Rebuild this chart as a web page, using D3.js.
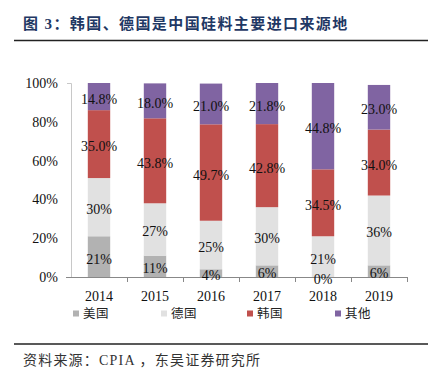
<!DOCTYPE html>
<html>
<head>
<meta charset="utf-8">
<script src="https://cdn.jsdelivr.net/npm/d3@7"></script>
<style>
  body { margin: 0; background: #fff; }
  svg text { font-family: "Liberation Serif", "Times New Roman", serif; }
  .cjk { font-family: "Liberation Serif", "Noto Sans CJK SC", serif; }
</style>
</head>
<body>
<div id="chart"></div>
<script>
const svgWidth = 431;
const svgHeight = 374;

// data
const years = ["2014", "2015", "2016", "2017", "2018", "2019"];
const seriesNames = ["美国", "德国", "韩国", "其他"];
const usa = [21, 11, 4, 6, 0, 6];
const germany = [30, 27, 25, 30, 21, 36];
const korea = [35.0, 43.8, 49.7, 42.8, 34.5, 34.0];
const others = [14.8, 18.0, 21.0, 21.8, 44.8, 23.0];
const labelText = [
  ["21%", "11%", "4%", "6%", "0%", "6%"],
  ["30%", "27%", "25%", "30%", "21%", "36%"],
  ["35.0%", "43.8%", "49.7%", "42.8%", "34.5%", "34.0%"],
  ["14.8%", "18.0%", "21.0%", "21.8%", "44.8%", "23.0%"]
];
const yTicks = [0, 20, 40, 60, 80, 100];
const colors = ["#b2b2b2", "#e1e1e1", "#c0504d", "#8064a2"];

const margin = { top: 83, left: 71, right: 24, bottom: 97 };
const width = svgWidth - margin.left - margin.right;
const height = svgHeight - margin.top - margin.bottom;

const svg = d3.select("#chart").append("svg")
  .attr("width", svgWidth)
  .attr("height", svgHeight);

// title + rules
svg.append("text")
  .attr("class", "cjk")
  .attr("x", 23).attr("y", 29)
  .attr("font-size", 15).attr("font-weight", "bold")
  .attr("letter-spacing", 1.4)
  .attr("fill", "#1f3864")
  .text("图 3：韩国、德国是中国硅料主要进口来源地");
svg.append("line").attr("x1", 14).attr("x2", 428).attr("y1", 40.5).attr("y2", 40.5)
  .attr("stroke", "#222").attr("stroke-width", 1.6);
svg.append("line").attr("x1", 14).attr("x2", 428).attr("y1", 344).attr("y2", 344)
  .attr("stroke", "#222").attr("stroke-width", 1.3);
svg.append("text")
  .attr("class", "cjk")
  .attr("x", 23).attr("y", 365)
  .attr("font-size", 14).attr("fill", "#333")
  .attr("letter-spacing", 1.2)
  .text("资料来源：CPIA ，东吴证券研究所");

const chartGroup = svg.append("g")
  .attr("transform", `translate(${margin.left}, ${margin.top})`);

// scales
const x = d3.scaleBand().domain(years).range([0, width]).paddingInner(0.6).paddingOuter(0.3);
const y = d3.scaleLinear().domain([0, 100]).range([height, 0]).clamp(true);

// stacked data
const table = years.map((yr, i) => ({
  year: yr, "美国": usa[i], "德国": germany[i], "韩国": korea[i], "其他": others[i]
}));
const stacked = d3.stack().keys(seriesNames)(table);

// y axis
const yAxis = chartGroup.append("g")
  .call(d3.axisLeft(y).tickValues(yTicks).tickFormat(d => d + "%").tickSize(0).tickSizeOuter(4).tickPadding(13));
yAxis.select(".domain").attr("stroke", "#c8c8c8");
yAxis.selectAll("text").attr("font-size", 14).attr("fill", "#111")
  .style("font-family", "Liberation Serif, serif");

// bars
const layers = chartGroup.selectAll("g.layer")
  .data(stacked)
  .enter().append("g")
  .attr("class", "layer")
  .attr("fill", (d, i) => colors[i]);

layers.selectAll("rect")
  .data(d => d)
  .enter().append("rect")
  .attr("x", d => x(d.data.year))
  .attr("y", d => y(d[1]))
  .attr("width", x.bandwidth())
  .attr("height", d => y(d[0]) - y(d[1]));

// x axis
const xAxisG = chartGroup.append("g").attr("transform", `translate(0, ${height})`);
xAxisG.append("line").attr("x1", -5).attr("x2", width).attr("y1", 0.5).attr("y2", 0.5)
  .attr("stroke", "#888");
xAxisG.selectAll("line.tick")
  .data(years)
  .enter().append("line")
  .attr("class", "tick")
  .attr("x1", (d, i) => (i + 1) * x.step() + 0.5)
  .attr("x2", (d, i) => (i + 1) * x.step() + 0.5)
  .attr("y1", 0).attr("y2", 5)
  .attr("stroke", "#888");
xAxisG.selectAll("text")
  .data(years)
  .enter().append("text")
  .attr("x", d => x(d) + x.bandwidth() / 2)
  .attr("y", 24)
  .attr("text-anchor", "middle")
  .attr("font-size", 14).attr("fill", "#111")
  .text(d => d);

// value labels
stacked.forEach((layer, si) => {
  chartGroup.selectAll(null)
    .data(layer)
    .enter().append("text")
    .attr("x", d => x(d.data.year) + x.bandwidth() / 2)
    .attr("y", d => (y(d[0]) + y(d[1])) / 2 + 7)
    .attr("text-anchor", "middle")
    .attr("font-size", 14).attr("fill", "#111")
    .text((d, i) => labelText[si][i]);
});

// legend
const legendX = [73, 161, 247, 335];
const legend = svg.selectAll("g.legend")
  .data(seriesNames)
  .enter().append("g")
  .attr("class", "legend")
  .attr("transform", (d, i) => `translate(${legendX[i]}, 310)`);
legend.append("rect").attr("width", 6).attr("height", 6).attr("y", 0.5)
  .attr("fill", (d, i) => colors[i]);
legend.append("text")
  .attr("class", "cjk")
  .attr("x", 10).attr("y", 8)
  .attr("font-size", 12.5).attr("letter-spacing", 0.5).attr("fill", "#222")
  .text(d => d);
</script>
</body>
</html>
